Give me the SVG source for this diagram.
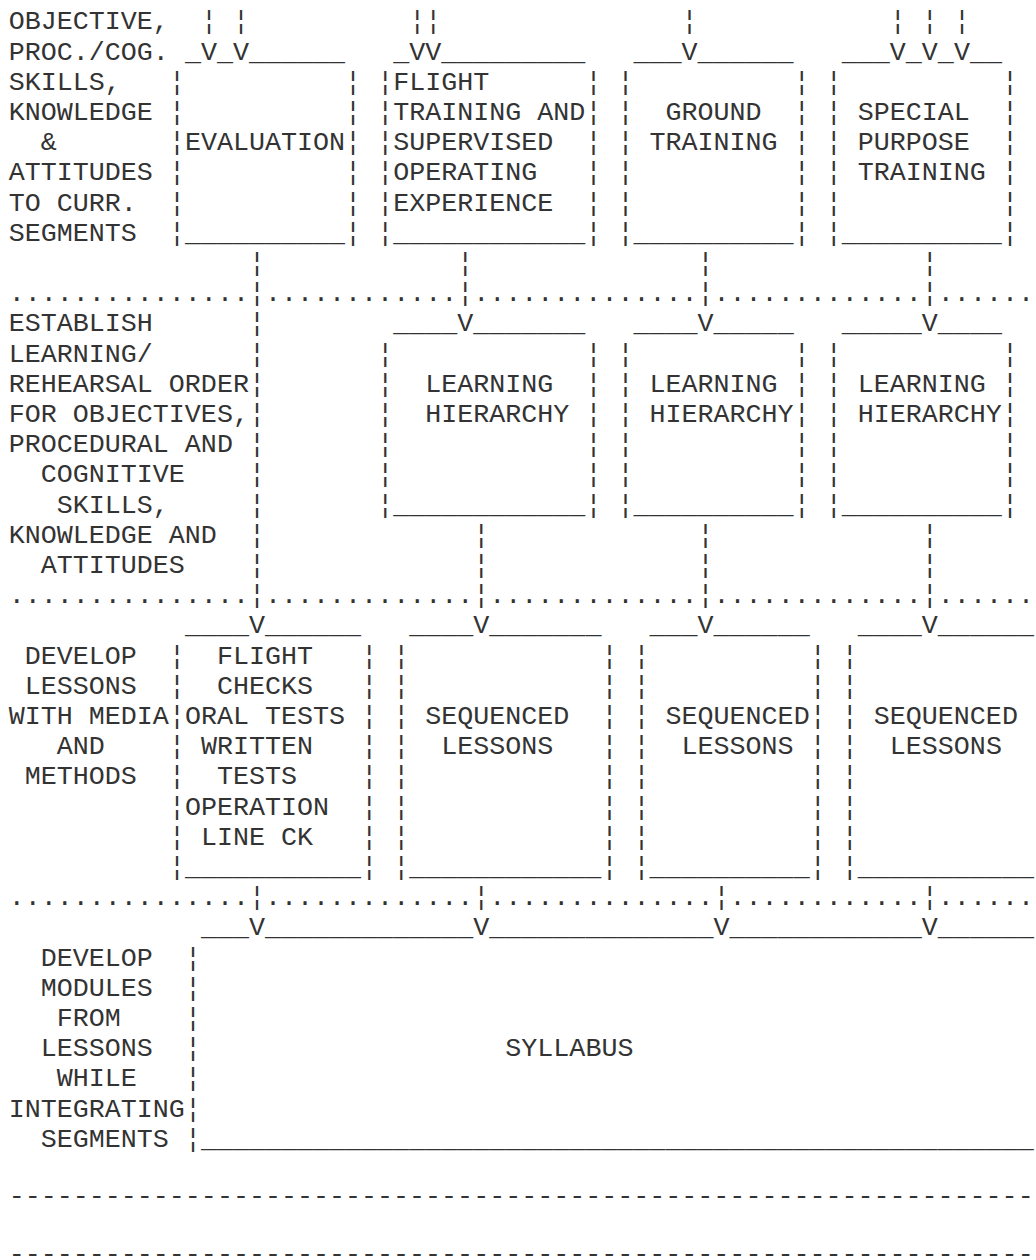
<svg xmlns="http://www.w3.org/2000/svg" width="1036" height="1260" viewBox="0 0 1036 1260">
<style>
text { font-family: "Liberation Mono", "Courier New", monospace; font-size: 26.7px; fill: #333; }
</style>
<rect width="1036" height="1260" fill="#fff"/>

<!-- Character grid: column c at x = 8.7 + 16.02*c, row r baseline at y = 29.3 + 30.2*r -->

<!-- Stage headings, left column -->
<g id="stage-objectives">
<text x="8.7" y="29.3">OBJECTIVE,</text>
<text x="8.7" y="59.5">PROC./COG.</text>
<text x="8.7" y="89.7">SKILLS,</text>
<text x="8.7" y="119.9">KNOWLEDGE</text>
<text x="40.74" y="150.1">&amp;</text>
<text x="8.7" y="180.3">ATTITUDES</text>
<text x="8.7" y="210.5">TO CURR.</text>
<text x="8.7" y="240.7">SEGMENTS</text>
</g>
<g id="stage-learning-order">
<text x="8.7" y="331.3">ESTABLISH</text>
<text x="8.7" y="361.5">LEARNING/</text>
<text x="8.7" y="391.7">REHEARSAL ORDER</text>
<text x="8.7" y="421.9">FOR OBJECTIVES,</text>
<text x="8.7" y="452.1">PROCEDURAL AND</text>
<text x="40.74" y="482.3">COGNITIVE</text>
<text x="56.76" y="512.5">SKILLS,</text>
<text x="8.7" y="542.7">KNOWLEDGE AND</text>
<text x="40.74" y="572.9">ATTITUDES</text>
</g>
<g id="stage-lessons">
<text x="24.72" y="663.5">DEVELOP</text>
<text x="24.72" y="693.7">LESSONS</text>
<text x="8.7" y="723.9">WITH MEDIA</text>
<text x="56.76" y="754.1">AND</text>
<text x="24.72" y="784.3">METHODS</text>
</g>
<g id="stage-modules">
<text x="40.74" y="965.5">DEVELOP</text>
<text x="40.74" y="995.7">MODULES</text>
<text x="56.76" y="1025.9">FROM</text>
<text x="40.74" y="1056.1">LESSONS</text>
<text x="56.76" y="1086.3">WHILE</text>
<text x="8.7" y="1116.5">INTEGRATING</text>
<text x="40.74" y="1146.7">SEGMENTS</text>
</g>

<!-- Curriculum segments -->
<g id="node-evaluation">
<text y="59.5"><tspan x="184.92">_</tspan><tspan x="216.96">_</tspan><tspan x="249">______</tspan></text>
<text x="168.9 345.12 168.9 345.12 168.9 345.12 168.9 345.12 168.9 345.12 168.9 345.12" y="89.7 89.7 119.9 119.9 150.1 150.1 180.3 180.3 210.5 210.5 240.7 240.7">¦¦¦¦¦¦¦¦¦¦¦¦</text>
<text x="184.92" y="240.7">__________</text>
<text x="184.92" y="150.1">EVALUATION</text>
</g>
<g id="node-flight-training">
<text y="59.5"><tspan x="393.18">_</tspan><tspan x="441.24">_________</tspan></text>
<text x="377.16 585.42 377.16 585.42 377.16 585.42 377.16 585.42 377.16 585.42 377.16 585.42" y="89.7 89.7 119.9 119.9 150.1 150.1 180.3 180.3 210.5 210.5 240.7 240.7">¦¦¦¦¦¦¦¦¦¦¦¦</text>
<text x="393.18" y="240.7">____________</text>
<text x="393.18" y="89.7">FLIGHT</text>
<text x="393.18" y="119.9">TRAINING AND</text>
<text x="393.18" y="150.1">SUPERVISED</text>
<text x="393.18" y="180.3">OPERATING</text>
<text x="393.18" y="210.5">EXPERIENCE</text>
</g>
<g id="node-ground-training">
<text y="59.5"><tspan x="633.48">___</tspan><tspan x="697.56">______</tspan></text>
<text x="617.46 793.68 617.46 793.68 617.46 793.68 617.46 793.68 617.46 793.68 617.46 793.68" y="89.7 89.7 119.9 119.9 150.1 150.1 180.3 180.3 210.5 210.5 240.7 240.7">¦¦¦¦¦¦¦¦¦¦¦¦</text>
<text x="633.48" y="240.7">__________</text>
<text x="665.52" y="119.9">GROUND</text>
<text x="649.5" y="150.1">TRAINING</text>
</g>
<g id="node-special-purpose">
<text y="59.5"><tspan x="841.74">___</tspan><tspan x="905.82">_</tspan><tspan x="937.86">_</tspan><tspan x="969.9">__</tspan></text>
<text x="825.72 1001.94 825.72 1001.94 825.72 1001.94 825.72 1001.94 825.72 1001.94 825.72 1001.94" y="89.7 89.7 119.9 119.9 150.1 150.1 180.3 180.3 210.5 210.5 240.7 240.7">¦¦¦¦¦¦¦¦¦¦¦¦</text>
<text x="841.74" y="240.7">__________</text>
<text x="857.76" y="119.9">SPECIAL</text>
<text x="857.76" y="150.1">PURPOSE</text>
<text x="857.76" y="180.3">TRAINING</text>
</g>

<!-- Learning hierarchies -->
<g id="node-hierarchy-flight">
<text y="331.3"><tspan x="393.18">____</tspan><tspan x="473.28">_______</tspan></text>
<text x="377.16 585.42 377.16 585.42 377.16 585.42 377.16 585.42 377.16 585.42 377.16 585.42" y="361.5 361.5 391.7 391.7 421.9 421.9 452.1 452.1 482.3 482.3 512.5 512.5">¦¦¦¦¦¦¦¦¦¦¦¦</text>
<text x="393.18" y="512.5">____________</text>
<text x="425.22" y="391.7">LEARNING</text>
<text x="425.22" y="421.9">HIERARCHY</text>
</g>
<g id="node-hierarchy-ground">
<text y="331.3"><tspan x="633.48">____</tspan><tspan x="713.58">_____</tspan></text>
<text x="617.46 793.68 617.46 793.68 617.46 793.68 617.46 793.68 617.46 793.68 617.46 793.68" y="361.5 361.5 391.7 391.7 421.9 421.9 452.1 452.1 482.3 482.3 512.5 512.5">¦¦¦¦¦¦¦¦¦¦¦¦</text>
<text x="633.48" y="512.5">__________</text>
<text x="649.5" y="391.7">LEARNING</text>
<text x="649.5" y="421.9">HIERARCHY</text>
</g>
<g id="node-hierarchy-special">
<text y="331.3"><tspan x="841.74">_____</tspan><tspan x="937.86">____</tspan></text>
<text x="825.72 1001.94 825.72 1001.94 825.72 1001.94 825.72 1001.94 825.72 1001.94 825.72 1001.94" y="361.5 361.5 391.7 391.7 421.9 421.9 452.1 452.1 482.3 482.3 512.5 512.5">¦¦¦¦¦¦¦¦¦¦¦¦</text>
<text x="841.74" y="512.5">__________</text>
<text x="857.76" y="391.7">LEARNING</text>
<text x="857.76" y="421.9">HIERARCHY</text>
</g>

<!-- Lessons -->
<g id="node-checks">
<text y="633.3"><tspan x="184.92">____</tspan><tspan x="265.02">______</tspan></text>
<text x="168.9 361.14 168.9 361.14 168.9 361.14 168.9 361.14 168.9 361.14 168.9 361.14 168.9 361.14 168.9 361.14" y="663.5 663.5 693.7 693.7 723.9 723.9 754.1 754.1 784.3 784.3 814.5 814.5 844.7 844.7 874.9 874.9">¦¦¦¦¦¦¦¦¦¦¦¦¦¦¦¦</text>
<text x="184.92" y="874.9">___________</text>
<text x="216.96" y="663.5">FLIGHT</text>
<text x="216.96" y="693.7">CHECKS</text>
<text x="184.92" y="723.9">ORAL TESTS</text>
<text x="200.94" y="754.1">WRITTEN</text>
<text x="216.96" y="784.3">TESTS</text>
<text x="184.92" y="814.5">OPERATION</text>
<text x="200.94" y="844.7">LINE CK</text>
</g>
<g id="node-lessons-flight">
<text y="633.3"><tspan x="409.2">____</tspan><tspan x="489.3">_______</tspan></text>
<text x="393.18 601.44 393.18 601.44 393.18 601.44 393.18 601.44 393.18 601.44 393.18 601.44 393.18 601.44 393.18 601.44" y="663.5 663.5 693.7 693.7 723.9 723.9 754.1 754.1 784.3 784.3 814.5 814.5 844.7 844.7 874.9 874.9">¦¦¦¦¦¦¦¦¦¦¦¦¦¦¦¦</text>
<text x="409.2" y="874.9">____________</text>
<text x="425.22" y="723.9">SEQUENCED</text>
<text x="441.24" y="754.1">LESSONS</text>
</g>
<g id="node-lessons-ground">
<text y="633.3"><tspan x="649.5">___</tspan><tspan x="713.58">______</tspan></text>
<text x="633.48 809.7 633.48 809.7 633.48 809.7 633.48 809.7 633.48 809.7 633.48 809.7 633.48 809.7 633.48 809.7" y="663.5 663.5 693.7 693.7 723.9 723.9 754.1 754.1 784.3 784.3 814.5 814.5 844.7 844.7 874.9 874.9">¦¦¦¦¦¦¦¦¦¦¦¦¦¦¦¦</text>
<text x="649.5" y="874.9">__________</text>
<text x="665.52" y="723.9">SEQUENCED</text>
<text x="681.54" y="754.1">LESSONS</text>
</g>
<g id="node-lessons-special">
<text y="633.3"><tspan x="857.76">____</tspan><tspan x="937.86">______</tspan></text>
<text x="841.74 841.74 841.74 841.74 841.74 841.74 841.74 841.74" y="663.5 693.7 723.9 754.1 784.3 814.5 844.7 874.9">¦¦¦¦¦¦¦¦</text>
<text x="857.76" y="874.9">___________</text>
<text x="873.78" y="723.9">SEQUENCED</text>
<text x="889.8" y="754.1">LESSONS</text>
</g>

<!-- Syllabus -->
<g id="node-syllabus">
<text y="935.3"><tspan x="200.94">___</tspan><tspan x="265.02">_____________</tspan><tspan x="489.3">______________</tspan><tspan x="729.6">____________</tspan><tspan x="937.86">______</tspan></text>
<text x="184.92 184.92 184.92 184.92 184.92 184.92 184.92" y="965.5 995.7 1025.9 1056.1 1086.3 1116.5 1146.7">¦¦¦¦¦¦¦</text>
<text x="200.94" y="1146.7">____________________________________________________</text>
<text x="505.32" y="1056.1">SYLLABUS</text>
</g>

<!-- Stage separators -->
<g id="separators">
<text y="301.1"><tspan x="8.7">...............</tspan><tspan x="265.02">............</tspan><tspan x="473.28">..............</tspan><tspan x="713.58">.............</tspan><tspan x="937.86">......</tspan></text>
<text y="603.1"><tspan x="8.7">...............</tspan><tspan x="265.02">.............</tspan><tspan x="489.3">.............</tspan><tspan x="713.58">.............</tspan><tspan x="937.86">......</tspan></text>
<text y="905.1"><tspan x="8.7">...............</tspan><tspan x="265.02">.............</tspan><tspan x="489.3">..............</tspan><tspan x="729.6">............</tspan><tspan x="937.86">......</tspan></text>
<text x="8.7" y="1204">----------------------------------------------------------------</text>
<text x="8.7" y="1262">----------------------------------------------------------------</text>
</g>

<!-- Flow lines and arrowheads -->
<g id="connectors">
<g id="in-evaluation"><text x="200.94 232.98 200.94 232.98" y="29.3 29.3 59.5 59.5">¦¦VV</text></g>
<g id="in-flight-training"><text x="409.2 425.22 409.2 425.22" y="29.3 29.3 59.5 59.5">¦¦VV</text></g>
<g id="in-ground-training"><text x="681.54 681.54" y="29.3 59.5">¦V</text></g>
<g id="in-special-purpose"><text x="889.8 921.84 953.88 889.8 921.84 953.88" y="29.3 29.3 29.3 59.5 59.5 59.5">¦¦¦VVV</text></g>
<g id="edge-evaluation-checks"><text x="249 249 249 249 249 249 249 249 249 249 249 249 249" y="270.9 301.1 331.3 361.5 391.7 421.9 452.1 482.3 512.5 542.7 572.9 603.1 633.3">¦¦¦¦¦¦¦¦¦¦¦¦V</text></g>
<g id="edge-flight-hierarchy"><text x="457.26 457.26 457.26" y="270.9 301.1 331.3">¦¦V</text></g>
<g id="edge-ground-hierarchy"><text x="697.56 697.56 697.56" y="270.9 301.1 331.3">¦¦V</text></g>
<g id="edge-special-hierarchy"><text x="921.84 921.84 921.84" y="270.9 301.1 331.3">¦¦V</text></g>
<g id="edge-hierarchy-lessons-flight"><text x="473.28 473.28 473.28 473.28" y="542.7 572.9 603.1 633.3">¦¦¦V</text></g>
<g id="edge-hierarchy-lessons-ground"><text x="697.56 697.56 697.56 697.56" y="542.7 572.9 603.1 633.3">¦¦¦V</text></g>
<g id="edge-hierarchy-lessons-special"><text x="921.84 921.84 921.84 921.84" y="542.7 572.9 603.1 633.3">¦¦¦V</text></g>
<g id="edge-checks-syllabus"><text x="249 249" y="905.1 935.3">¦V</text></g>
<g id="edge-lessons-flight-syllabus"><text x="473.28 473.28" y="905.1 935.3">¦V</text></g>
<g id="edge-lessons-ground-syllabus"><text x="713.58 713.58" y="905.1 935.3">¦V</text></g>
<g id="edge-lessons-special-syllabus"><text x="921.84 921.84" y="905.1 935.3">¦V</text></g>
</g>
</svg>
